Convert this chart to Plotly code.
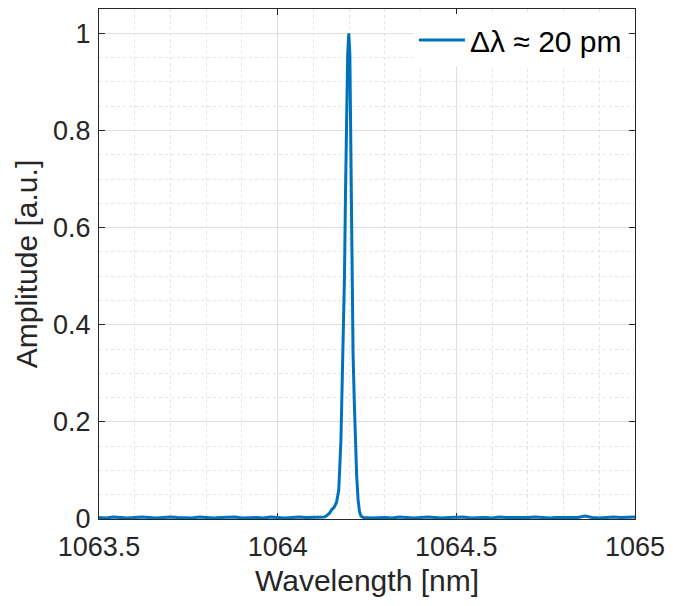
import plotly.graph_objects as go

# Wavelength [nm] and normalised amplitude
baseline_left_x = [1063.50, 1063.52, 1063.54, 1063.56, 1063.58, 1063.60, 1063.62, 1063.64,
                   1063.66, 1063.68, 1063.70, 1063.72, 1063.74, 1063.76, 1063.78, 1063.80,
                   1063.82, 1063.84, 1063.86, 1063.88, 1063.90, 1063.92, 1063.94, 1063.96,
                   1063.98, 1064.00, 1064.02, 1064.04, 1064.06, 1064.08, 1064.10, 1064.12]
baseline_left_y = [0.003, 0.002, 0.004, 0.003, 0.002, 0.003, 0.004, 0.003,
                   0.002, 0.003, 0.004, 0.003, 0.003, 0.002, 0.004, 0.003,
                   0.002, 0.003, 0.003, 0.004, 0.002, 0.003, 0.003, 0.002,
                   0.004, 0.003, 0.002, 0.003, 0.004, 0.003, 0.003, 0.004]

peak_x = [1064.130, 1064.136, 1064.145, 1064.152, 1064.158, 1064.165, 1064.171, 1064.177,
          1064.183, 1064.187, 1064.190, 1064.193, 1064.196, 1064.199, 1064.202, 1064.204,
          1064.206, 1064.208, 1064.211, 1064.2145, 1064.2175, 1064.221, 1064.225, 1064.229,
          1064.233, 1064.240]
peak_y = [0.004, 0.006, 0.012, 0.020, 0.024, 0.035, 0.060, 0.160,
          0.340, 0.500, 0.680, 0.820, 0.957, 1.000, 0.957, 0.820,
          0.680, 0.500, 0.340, 0.240, 0.160, 0.090, 0.040, 0.015,
          0.006, 0.003]

baseline_right_x = [1064.26, 1064.28, 1064.30, 1064.32, 1064.34, 1064.36, 1064.38, 1064.40,
                    1064.42, 1064.44, 1064.46, 1064.48, 1064.50, 1064.52, 1064.54, 1064.56,
                    1064.58, 1064.60, 1064.62, 1064.64, 1064.66, 1064.68, 1064.70, 1064.72,
                    1064.74, 1064.76, 1064.78, 1064.80, 1064.82, 1064.84, 1064.86, 1064.88,
                    1064.90, 1064.92, 1064.94, 1064.96, 1064.98, 1065.00]
baseline_right_y = [0.002, 0.003, 0.003, 0.002, 0.004, 0.003, 0.002, 0.003,
                    0.004, 0.003, 0.002, 0.003, 0.003, 0.004, 0.002, 0.003,
                    0.003, 0.002, 0.004, 0.003, 0.003, 0.002, 0.003, 0.004,
                    0.003, 0.002, 0.003, 0.003, 0.004, 0.003, 0.006, 0.003,
                    0.002, 0.003, 0.004, 0.003, 0.003, 0.004]

x_ticks = [1063.5, 1064, 1064.5, 1065]
x_tick_labels = ["1063.5", "1064", "1064.5", "1065"]
y_ticks = [0, 0.2, 0.4, 0.6, 0.8, 1]
y_tick_labels = ["0", "0.2", "0.4", "0.6", "0.8", "1"]

series_name = "Δλ ≈ 20 pm"

wl = baseline_left_x + peak_x + baseline_right_x
amp = baseline_left_y + peak_y + baseline_right_y

FONT = "Liberation Sans, Arial, sans-serif"
AX = "#262626"

fig = go.Figure()
fig.add_trace(go.Scatter(x=wl, y=amp, mode="lines", name=series_name,
                         line=dict(color="#0072BD", width=3)))

common = dict(showline=True, linecolor=AX, linewidth=1, mirror="ticks",
              ticks="inside", ticklen=6, tickcolor=AX, tickwidth=1,
              showgrid=True, gridcolor="#dedede", gridwidth=1,
              zeroline=False, layer="below traces",
              tickfont=dict(family=FONT, size=27, color=AX),
              title_font=dict(family=FONT, size=30, color=AX))

fig.update_xaxes(range=[1063.5, 1065], tickvals=x_ticks, ticktext=x_tick_labels,
                 title_text="Wavelength [nm]", title_standoff=8,
                 ticklabelstandoff=4,
                 minor=dict(dtick=0.1, showgrid=True, gridcolor="#e4e4e4", griddash="dot"),
                 **common)
fig.update_yaxes(range=[0, 1.05], tickvals=y_ticks, ticktext=y_tick_labels,
                 title_text="Amplitude [a.u.]", title_standoff=6,
                 ticklabelstandoff=2,
                 minor=dict(dtick=0.05, showgrid=True, gridcolor="#e4e4e4", griddash="dot"),
                 **common)

fig.update_layout(
    width=673, height=606,
    margin=dict(l=99, r=34, t=8, b=87),
    paper_bgcolor="white", plot_bgcolor="white",
    showlegend=True,
    legend=dict(x=0.985, y=0.99, xanchor="right", yanchor="top",
                bgcolor="white", borderwidth=0, itemwidth=46,
                font=dict(family=FONT, size=30, color="black")),
)

fig.write_html("out.html")
